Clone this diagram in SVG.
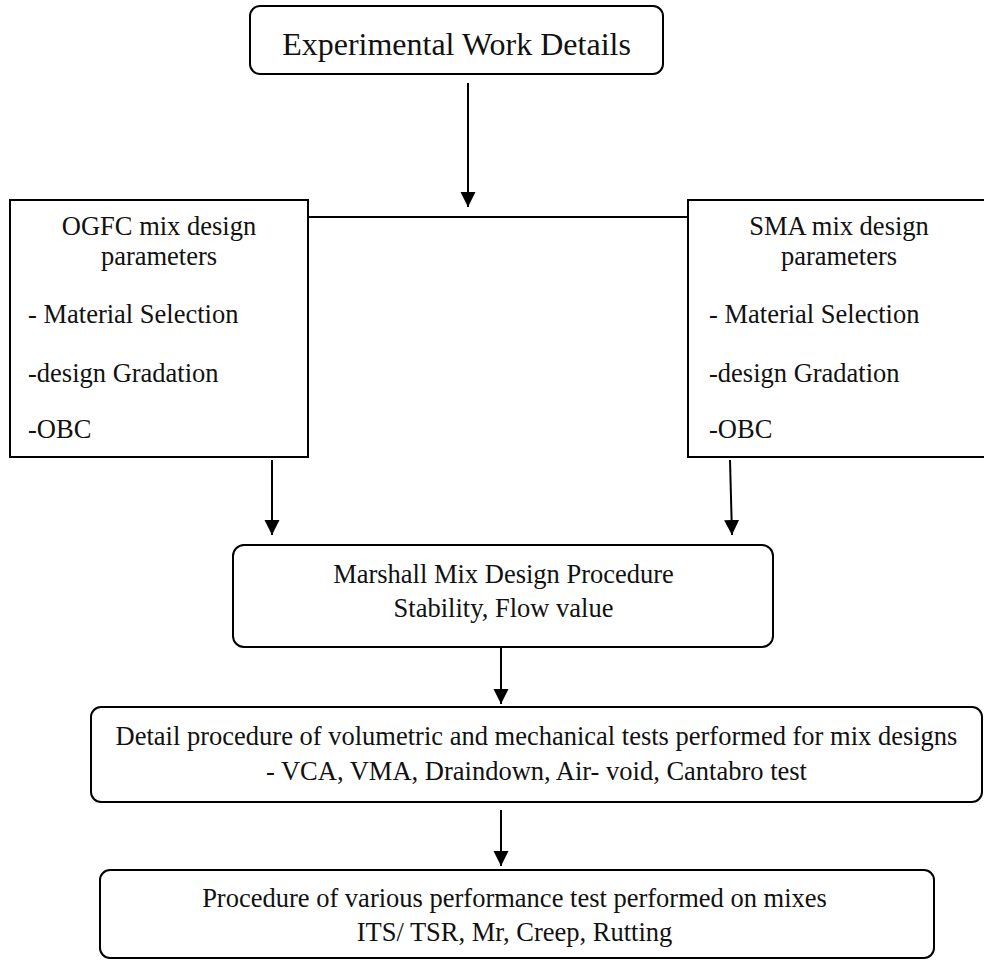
<svg xmlns="http://www.w3.org/2000/svg" width="984" height="960" viewBox="0 0 984 960">
<defs>
<style>
.box{fill:#fff;stroke:#000;stroke-width:2}
.t{font-family:'Liberation Serif','Times New Roman','DejaVu Serif',serif;font-size:26.5px;fill:#111}
.c{text-anchor:middle}
.conn{stroke:#000;stroke-width:2;fill:none}
</style>
<marker id="ah" markerUnits="userSpaceOnUse" markerWidth="16" markerHeight="16" refX="15" refY="7.5" orient="auto">
<path d="M0,0 L15,7.5 L0,15 z" fill="#000"/>
</marker>
</defs>
<rect width="984" height="960" fill="#fff"/>
<g id="connectors">
<line class="conn" x1="468" y1="83" x2="468" y2="207" marker-end="url(#ah)"/>
<line class="conn" x1="287" y1="217" x2="714" y2="217"/>
<line class="conn" x1="272" y1="460" x2="272" y2="535" marker-end="url(#ah)"/>
<line class="conn" x1="730" y1="460" x2="732" y2="535" marker-end="url(#ah)"/>
<line class="conn" x1="501" y1="647" x2="501" y2="704" marker-end="url(#ah)"/>
<line class="conn" x1="501" y1="810" x2="501" y2="866" marker-end="url(#ah)"/>
</g>
<g id="top">
<rect class="box" x="250" y="6" width="413" height="68" rx="10"/>
<text class="t c" x="456.5" y="55" font-family="Liberation Serif, serif" style="font-size:32px">Experimental Work Details</text>
</g>
<g id="ogfc" font-family="Liberation Serif, serif">
<rect class="box" x="10" y="200" width="298" height="257"/>
<text class="t c" x="159" y="235">OGFC mix design</text>
<text class="t c" x="159" y="265">parameters</text>
<text class="t" x="28" y="323">- Material Selection</text>
<text class="t" x="28" y="382">-design Gradation</text>
<text class="t" x="28" y="438">-OBC</text>
</g>
<g id="sma">
<rect class="box" x="688" y="200" width="302" height="257"/>
<text class="t c" x="839" y="235">SMA mix design</text>
<text class="t c" x="839" y="265">parameters</text>
<text class="t" x="709" y="323">- Material Selection</text>
<text class="t" x="709" y="382">-design Gradation</text>
<text class="t" x="709" y="438">-OBC</text>
</g>
<g id="marshall">
<rect class="box" x="233" y="545" width="540" height="102" rx="11"/>
<text class="t c" x="503.5" y="583">Marshall Mix Design Procedure</text>
<text class="t c" x="503.5" y="617">Stability, Flow value</text>
</g>
<g id="detail">
<rect class="box" x="91" y="707" width="891" height="95" rx="10"/>
<text class="t c" x="536.5" y="745">Detail procedure of volumetric and mechanical tests performed for mix designs</text>
<text class="t c" x="536.5" y="780">- VCA, VMA, Draindown, Air- void, Cantabro test</text>
</g>
<g id="performance">
<rect class="box" x="100" y="870" width="834" height="88" rx="10"/>
<text class="t c" x="514.5" y="907">Procedure of various performance test performed on mixes</text>
<text class="t c" x="514.5" y="941">ITS/ TSR, Mr, Creep, Rutting</text>
</g>
</svg>
